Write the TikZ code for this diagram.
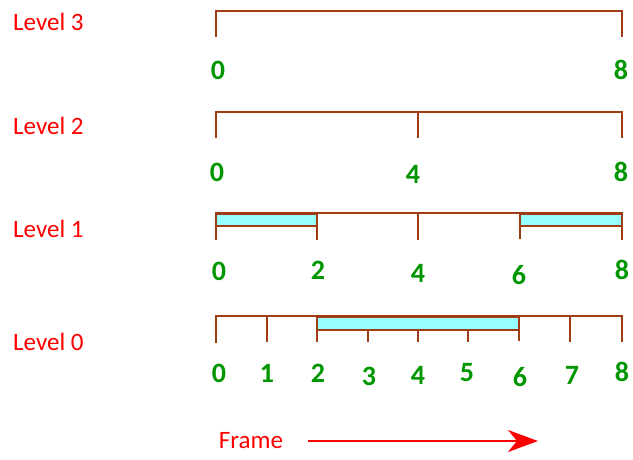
\documentclass[tikz,border=0pt]{standalone}
\usepackage{fontspec}
\setmainfont{Carlito}
\usetikzlibrary{arrows.meta}
\definecolor{brn}{RGB}{160,60,20}
\definecolor{cy}{RGB}{150,255,255}
\definecolor{grn}{RGB}{0,150,0}
\definecolor{rd}{RGB}{255,0,0}
\tikzset{
  bar/.style={draw=brn,line width=2.9pt,line cap=rect},
  seg/.style={draw=brn,line width=2.9pt,fill=cy},
  lvl/.style={anchor=west,text=rd,font=\fontsize{25}{27}\selectfont,inner sep=0pt},
  num/.style={text=grn,font=\bfseries\fontsize{28}{30}\selectfont,inner sep=0pt},
}
\begin{document}
\begin{tikzpicture}[x=1pt,y=-1pt]
\useasboundingbox (0,0) rectangle (633,459);
% Level 3
\node[lvl] (l3) at (13,22) {Level 3};
\draw[bar] (216,36) -- (216,11) -- (622,11) -- (622,36);
\node[num] (a0) at (218,70) {0};
\node[num] (a8) at (621,70) {8};
% Level 2
\node[lvl] (l2) at (13,126) {Level 2};
\draw[bar] (216,137) -- (216,112) -- (622,112) -- (622,137);
\draw[bar] (418,112) -- (418,137);
\node[num] (b0) at (217,172) {0};
\node[num] (b4) at (413,174) {4};
\node[num] (b8) at (621,172) {8};
% Level 1
\node[lvl] (l1) at (13,229) {Level 1};
\draw[seg] (216,214) rectangle (317,226);
\draw[seg] (520,214) rectangle (622,226);
\draw[bar] (216,239) -- (216,213) -- (622,213) -- (622,239);
\draw[bar] (317,213) -- (317,239);
\draw[bar] (418,213) -- (418,239);
\draw[bar] (520,213) -- (520,238);
\node[num] (c0) at (219,271) {0};
\node[num] (c2) at (318,270) {2};
\node[num] (c4) at (418,273) {4};
\node[num] (c6) at (519,275) {6};
\node[num] (c8) at (622,270) {8};
% Level 0
\node[lvl] (l0) at (13,342) {Level 0};
\draw[seg] (317,317) rectangle (519,330);
\draw[bar] (216,342) -- (216,316) -- (622,316) -- (622,341);
\draw[bar] (267,316) -- (267,341);
\draw[bar] (317,316) -- (317,341);
\draw[bar] (519,316) -- (519,340);
\draw[bar] (570,316) -- (570,341);
\draw[bar] (368,330) -- (368,341);
\draw[bar] (418,330) -- (418,341);
\draw[bar] (468,330) -- (468,341);
\node[num] (d0) at (219,373) {0};
\node[num] (d1) at (267,373) {1};
\node[num] (d2) at (318,373) {2};
\node[num] (d3) at (369,376) {3};
\node[num] (d4) at (418,375) {4};
\node[num] (d5) at (467,373) {5};
\node[num] (d6) at (520,377) {6};
\node[num] (d7) at (572,375) {7};
\node[num] (d8) at (622,372) {8};
% Frame arrow
\node[text=rd,font=\fontsize{25}{27}\selectfont,inner sep=0pt] (fr) at (251,441) {Frame};
\coordinate (as) at (308,441);
\coordinate (ae) at (538,441);
\draw[rd,line width=2.6pt,-{Stealth[length=30pt,width=22pt,inset=9pt]}] (as) -- (ae);
\end{tikzpicture}
\end{document}
